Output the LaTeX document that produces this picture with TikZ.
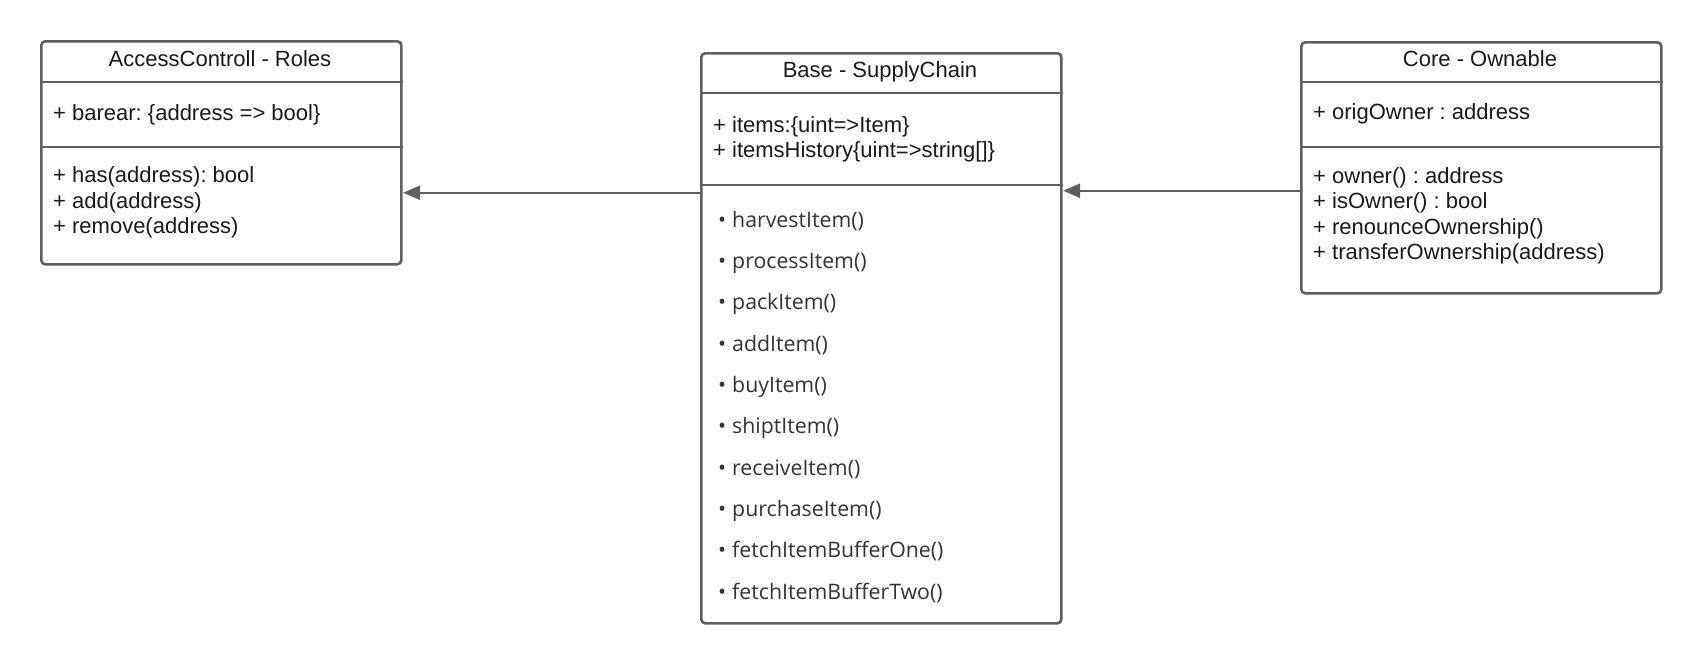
\documentclass[tikz,border=0pt]{standalone}
\usepackage{fontspec}
\setmainfont{Liberation Sans}
\newfontfamily\bulletfont{Open Sans}
\usetikzlibrary{arrows.meta}
\definecolor{edge}{HTML}{5F5F5F}
\definecolor{txt}{HTML}{1A1A1A}
\definecolor{btxt}{HTML}{333333}
\frenchspacing
\tikzset{
  classbox/.style={draw=edge, line width=2.6pt, rounded corners=4pt, fill=white, anchor=north west, inner sep=0pt},
  divider/.style={draw=edge, line width=2.6pt},
  ttl/.style={anchor=base, text=txt, font=\fontsize{22}{26}\selectfont\frenchspacing, inner sep=0pt},
  member/.style={anchor=base west, text=txt, font=\fontsize{22}{26}\selectfont\frenchspacing, inner sep=0pt},
  bitem/.style={anchor=base west, text=btxt, font=\bulletfont\fontsize{21.3}{26}\selectfont, inner sep=0pt},
  conn/.style={draw=edge, line width=2.4pt, -{Triangle[length=17pt,width=14pt]}, shorten >=0.5pt},
}
\begin{document}
\begin{tikzpicture}[x=1pt,y=-1pt]
\useasboundingbox (0,0) rectangle (1700,662);
% boxes
\node[classbox, minimum width=360pt, minimum height=223pt] (ac) at (40,40) {};
\node[classbox, minimum width=360pt, minimum height=570pt] (sc) at (700,52) {};
\node[classbox, minimum width=360pt, minimum height=251pt] (ow) at (1300,41) {};
% dividers
\draw[divider] (ac.west |- 0,82) -- (ac.east |- 0,82);
\draw[divider] (ac.west |- 0,147) -- (ac.east |- 0,147);
\draw[divider] (sc.west |- 0,93) -- (sc.east |- 0,93);
\draw[divider] (sc.west |- 0,185) -- (sc.east |- 0,185);
\draw[divider] (ow.west |- 0,82) -- (ow.east |- 0,82);
\draw[divider] (ow.west |- 0,147) -- (ow.east |- 0,147);
% AccessControll
\node[ttl] (act) at (220,66.7) {AccessControll - Roles};
\node[member] (aca) at (53,120.7) {+ barear: \{address => bool\}};
\node[member] (acm1) at (53,182.7) {+ has(address): bool};
\node[member] (acm2) at (53,208) {+ add(address)};
\node[member] (acm3) at (53,233.5) {+ remove(address)};
% SupplyChain
\node[ttl] (sct) at (880,77.3) {Base - SupplyChain};
\node[member] (sca1) at (713,132.7) {+ items:\{uint=>Item\}};
\node[member] (sca2) at (713,157.3) {+ itemsHistory\{uint=>string[]\}};
\foreach \t [count=\i from 0] in {harvestItem(),processItem(),packItem(),addItem(),buyItem(),shiptItem(),receiveItem(),purchaseItem(),fetchItemBufferOne(),fetchItemBufferTwo()}{
  \node[bitem] (scm\i) at (718,227.3+41.3*\i) {\textbullet\hspace{6pt}\t};
}
% Ownable
\node[ttl] (owt) at (1480,66) {Core - Ownable};
\node[member] (owa) at (1313,119.3) {+ origOwner : address};
\node[member] (owm1) at (1313,183) {+ owner() : address};
\node[member] (owm2) at (1313,208.5) {+ isOwner() : bool};
\node[member] (owm3) at (1313,234) {+ renounceOwnership()};
\node[member] (owm4) at (1313,259.5) {+ transferOwnership(address)};
% connectors
\coordinate (c1) at (sc.west |- 0,192.7);
\coordinate (c2) at (ow.west |- 0,190.7);
\draw[conn] (c1) -- (c1 -| ac.east);
\draw[conn] (c2) -- (c2 -| sc.east);
\end{tikzpicture}
\end{document}
